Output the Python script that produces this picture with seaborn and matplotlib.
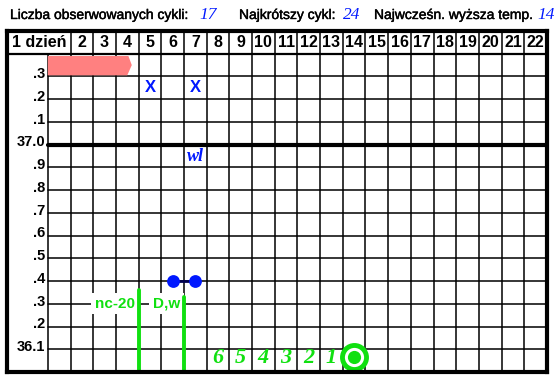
import numpy as np
import pandas as pd
import matplotlib
matplotlib.use("Agg")
import matplotlib.pyplot as plt
import matplotlib.patheffects as pe
import seaborn as sns

# Dane wykresu
days = list(range(1, 23))
header_labels = ['1 dzień'] + [str(d) for d in days[1:]]
y_levels = [37.3, 37.2, 37.1, 37.0, 36.9, 36.8, 36.7, 36.6, 36.5, 36.4, 36.3, 36.2, 36.1]
y_labels = ['.3', '.2', '.1', '37.0', '.9', '.8', '.7', '.6', '.5', '.4', '.3', '.2', '36.1']

temp_days = [6, 7]
temp_values = [36.4, 36.4]
x_days = [5, 7]
x_value = 37.25
wl_day, wl_value = 7, 36.95
pink_start, pink_end = 1, 3.7
marker_labels = ['nc-20', 'D,w']
marker_days = [4, 6]
marker_tops = [36.36, 36.33]
count_labels = ['6', '5', '4', '3', '2', '1']
count_days = [8, 9, 10, 11, 12, 13]
peak_day, peak_value = 14, 36.065

title_labels = ['Liczba obserwowanych cykli:', 'Najkrótszy cykl:', 'Najwcześn. wyższa temp.']
title_values = [17, 24, 14]

GREEN = '#10e010'
BLUE = '#0018ff'

sns.set_style('white')
plt.rcParams['font.family'] = ['Liberation Sans', 'DejaVu Sans']

fig = plt.figure(figsize=(5.56, 3.81), dpi=100)
W, H = 556, 381
ax = fig.add_axes([7 / W, 9 / H, 540 / W, 341 / H])
ax.set_xlim(-1.8, 22)
ax.set_ylim(36.0, 37.5)
ax.set_xticks([])
ax.set_yticks([])
for s in ax.spines.values():
    s.set_linewidth(3)
    s.set_color('black')
    s.set_zorder(10)

# siatka
for d in range(0, 22):
    top = 37.5 if d >= 1 else 37.4
    ax.plot([d, d], [36.0, top], color='black', lw=1.1, zorder=1)
for y in y_levels:
    lw = 3 if abs(y - 37.0) < 1e-6 else 1.1
    ax.plot([0, 22], [y, y], color='black', lw=lw, zorder=1)
ax.plot([-1.8, 22], [37.4, 37.4], color='black', lw=1.6, zorder=1)

# nagłówek dni
for i, lab in enumerate(header_labels):
    xc = -0.4 if i == 0 else days[i] - 0.5
    ax.text(xc, 37.45, lab, ha='center', va='center', fontsize=11.5,
            fontweight='bold', color='black')

# etykiety temperatur
for y, lab in zip(y_levels, y_labels):
    ax.text(-0.13, y + 0.01, lab, ha='right', va='center', fontsize=10.5,
            fontweight='bold', color='black')

# różowy pasek
ax.fill([pink_start - 1, pink_end - 0.15, pink_end, pink_end - 0.2, pink_start - 1],
        [37.39, 37.39, 37.35, 37.305, 37.305], color='#ff8080', lw=0, zorder=2)

# znaczniki X
for d in x_days:
    ax.text(d - 0.5, x_value, 'X', ha='center', va='center', fontsize=12,
            fontweight='bold', color=BLUE, zorder=4)

ax.text(wl_day - 0.5, wl_value, 'wl', ha='center', va='center', fontsize=13,
        fontweight='bold', fontstyle='italic', family='Liberation Serif',
        color=BLUE, zorder=4)

# temperatury
df = pd.DataFrame({'day': [d - 0.5 for d in temp_days], 'temp': temp_values})
sns.lineplot(data=df, x='day', y='temp', ax=ax, color='#000050', lw=2,
             zorder=5, legend=False)
sns.scatterplot(data=df, x='day', y='temp', ax=ax, color=BLUE, s=85,
                linewidth=0, zorder=6, legend=False)
ax.set_xlabel('')
ax.set_ylabel('')

# linie pomocnicze
for lab, d, top in zip(marker_labels, marker_days, marker_tops):
    ax.text(d - 0.17, 36.3, lab, ha='right', va='center', fontsize=11,
            fontweight='bold', color=GREEN, zorder=5,
            bbox=dict(facecolor='white', edgecolor='none', pad=2.5))
    ax.plot([d, d], [36.0, top], color=GREEN, lw=2.8, zorder=6)

for lab, d in zip(count_labels, count_days):
    ax.text(d - 0.5, 36.06, lab, ha='center', va='center', fontsize=16,
            fontweight='bold', fontstyle='italic', family='Liberation Serif',
            color=GREEN, zorder=5)

ax.scatter([peak_day - 0.5], [peak_value], s=300, facecolor='white',
           edgecolor=GREEN, linewidths=3.5, zorder=6)
ax.scatter([peak_day - 0.5], [peak_value], s=90, color=GREEN, linewidths=0, zorder=7)

# tytuł
ty = 1 - 15 / H
label_x = [10, 239, 374]
value_x = [199, 343, 537]
for lab, val, lx, vx in zip(title_labels, title_values, label_x, value_x):
    fig.text(lx / W, ty, lab, fontsize=10, va='center', color='black',
             path_effects=[pe.withStroke(linewidth=0.3, foreground='black')])
    fig.text(vx / W, ty, str(val), fontsize=12.5, va='center', color=BLUE,
             fontstyle='italic', family='Liberation Serif')

fig.savefig('out.png', dpi=100)
